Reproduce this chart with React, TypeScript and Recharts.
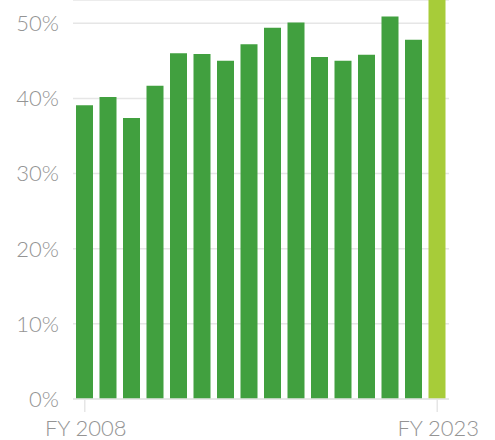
import { Bar, BarChart, CartesianGrid, Cell, XAxis, YAxis } from 'recharts';

const years = [
  'FY 2008', 'FY 2009', 'FY 2010', 'FY 2011', 'FY 2012', 'FY 2013', 'FY 2014', 'FY 2015',
  'FY 2016', 'FY 2017', 'FY 2018', 'FY 2019', 'FY 2020', 'FY 2021', 'FY 2022', 'FY 2023',
];
const shares = [39.1, 40.2, 37.4, 41.7, 46.0, 45.9, 45.0, 47.2, 49.4, 50.1, 45.5, 45.0, 45.8, 50.9, 47.8, 56.0];
const yTicks = [0, 10, 20, 30, 40, 50];

const GREEN = '#41a03f';
const LIME = '#a7cc39';
const GREY_TEXT = '#949494';
const GRID = '#e6e6e6';

const data = years.map((year, i) => ({ year, share: shares[i] }));

function YearTick(props: any) {
  const { x, y, payload, index } = props;
  if (index !== 0 && index !== years.length - 1) return null;
  return (
    <g>
      <line x1={x} x2={x} y1={y - 21} y2={y - 8} stroke={GRID} strokeWidth={1.5} />
      <text
        x={x + 1}
        y={y}
        dy="0.71em"
        textAnchor="middle"
        fill={GREY_TEXT}
        fontSize={22}
        fontFamily="Lato, sans-serif"
        fontWeight={300}
      >
        {payload.value}
      </text>
    </g>
  );
}

export default function App() {
  return (
    <div style={{ position: 'absolute', top: 0, left: 0, width: 495, height: 440 }}>
      <BarChart
        width={495}
        height={440}
        data={data}
        margin={{ top: 0, right: 46, bottom: 0, left: 0 }}
        barSize={17}
      >
        <CartesianGrid vertical={false} stroke={GRID} strokeWidth={1.5} />
        <XAxis
          dataKey="year"
          height={41}
          interval={0}
          tickLine={false}
          tickSize={13}
          tickMargin={8}
          axisLine={{ stroke: GRID, strokeWidth: 1.5 }}
          tick={<YearTick />}
        />
        <YAxis
          width={73}
          domain={[0, 53.1]}
          allowDataOverflow
          ticks={yTicks}
          tickFormatter={(v) => `${v}%`}
          axisLine={false}
          tickLine={false}
          tickMargin={8}
          tick={{ fill: GREY_TEXT, fontSize: 22, fontFamily: 'Lato, sans-serif', fontWeight: 300 }}
        />
        <Bar dataKey="share" isAnimationActive={false}>
          {data.map((d, i) => (
            <Cell key={d.year} fill={i === data.length - 1 ? LIME : GREEN} />
          ))}
        </Bar>
      </BarChart>
    </div>
  );
}
